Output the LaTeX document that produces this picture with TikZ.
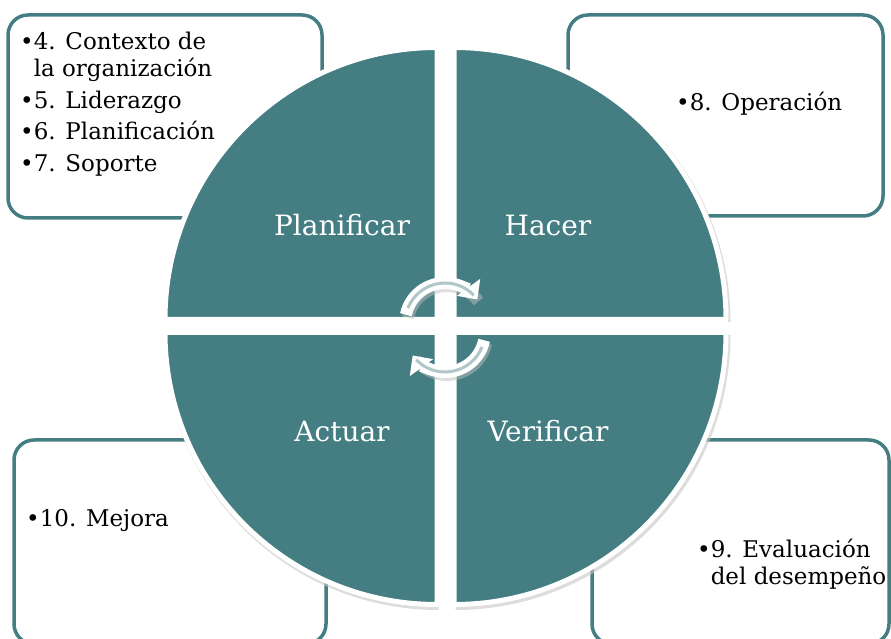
\documentclass[tikz,border=0pt]{standalone}
\usepackage{fontspec}
\setmainfont{DejaVu Serif}
\usepackage{xcolor}
\usepackage{tikz}
\usetikzlibrary{positioning,calc,arrows.meta}
\definecolor{PHVATeal}{RGB}{68,126,131}
\definecolor{PHVAGris}{RGB}{176,198,200}
\newcommand{\viñeta}{\textbullet}
\newcommand{\sinviñeta}{\phantom{\textbullet}}

\begin{document}
\begin{tikzpicture}[x=1pt,y=1pt,
    caja/.style={draw=PHVATeal, line width=3.5pt, rounded corners=20pt, fill=white},
    texto/.style={anchor=base west, inner sep=0pt, align=left, font=\fontsize{23}{27}\selectfont},
    etiqueta/.style={anchor=base, inner sep=0pt, text=white, font=\fontsize{28}{32}\selectfont},
    flecha/.style={white, line width=12pt, -{Triangle[length=15pt,width=28pt]}},
    franja/.style={PHVAGris, line width=3pt}
]
\useasboundingbox (0,0) rectangle (891,639);
\clip (0,0) rectangle (891,639);

% Cajas de las clausulas
\node[caja, minimum width=314pt, minimum height=203pt] (cajaplan) at (165,522.5) {};
\node[caja, minimum width=315pt, minimum height=201pt] (cajahacer) at (725.5,523.5) {};
\node[caja, minimum width=312pt, minimum height=204pt] (cajaactuar) at (170,97) {};
\node[caja, minimum width=297pt, minimum height=204pt] (cajaverif) at (740.5,97) {};

% Textos de las cajas (base = ultima linea)
\node[texto] (txtplan) at (20,467) {%
    \viñeta4. Contexto de\\
    \sinviñeta la organización\\[5pt]
    \viñeta5. Liderazgo\\[4pt]
    \viñeta6. Planificación\\[5pt]
    \viñeta7. Soporte};
\node[texto] (txthacer) at (676,528) {\viñeta8. Operación};
\node[texto] (txtactuar) at (26,112) {\viñeta10. Mejora};
\node[texto] (txtverif) at (697,54) {%
    \viñeta9. Evaluación\\
    \sinviñeta del desempeño};

% Cuadrantes del circulo
\foreach \cx/\cy/\a in {437/319.5/90, 454/319.5/0, 437/306.5/180, 454/306.5/270} {
    \fill[gray!45, opacity=.6] ($(\cx,\cy)+(1.5,-2.5)$) -- +(\a:275) arc[start angle=\a, delta angle=90, radius=275] -- cycle;
    \draw[white, line width=5pt, fill=PHVATeal, line join=round]
        (\cx,\cy) -- +(\a:272) arc[start angle=\a, delta angle=90, radius=272] -- cycle;
}

\node[etiqueta] (planificar) at (342,403) {Planificar};
\node[etiqueta] (hacer) at (548,403) {Hacer};
\node[etiqueta] (actuar) at (342,197) {Actuar};
\node[etiqueta] (verificar) at (548,197) {Verificar};

% Flechas circulares del centro
\draw[gray!50, line width=12pt, opacity=.5] (447,313) ++(168:40) arc[start angle=168, end angle=38, radius=40];
\draw[gray!50, line width=12pt, opacity=.5] (447,304) ++(-12:40) arc[start angle=-12, end angle=-142, radius=40];
\draw[flecha] (445,316) ++(168:40) arc[start angle=168, end angle=36, radius=40];
\draw[franja] (445,316) ++(158:40) arc[start angle=158, end angle=44, radius=40];
\draw[flecha] (445,307) ++(-12:40) arc[start angle=-12, end angle=-144, radius=40];
\draw[franja] (445,307) ++(-22:40) arc[start angle=-22, end angle=-136, radius=40];
\end{tikzpicture}
\end{document}
